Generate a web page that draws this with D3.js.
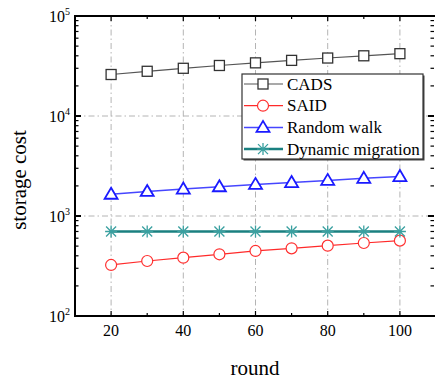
<!DOCTYPE html>
<html>
<head>
<meta charset="utf-8">
<script src="https://cdn.jsdelivr.net/npm/d3@7"></script>
<style>
  body { margin: 0; background: #fff; }
  text { font-family: "Liberation Serif", "Times New Roman", serif; fill: #000; }
</style>
</head>
<body>
<div id="chart"></div>
<script>
const rounds = [20, 30, 40, 50, 60, 70, 80, 90, 100];
const cads = [26000, 28000, 30000, 32000, 34000, 36000, 38000, 40000, 42000];
const said = [324, 355, 383, 414, 447, 475, 505, 537, 567];
const randomWalk = [1650, 1760, 1860, 1960, 2070, 2160, 2270, 2380, 2480];
const dynamicMigration = [700, 700, 700, 700, 700, 700, 700, 700, 700];
const xTicks = [20, 40, 60, 80, 100];
const yTicks = [100, 1000, 10000, 100000];

const W = 435, H = 379;
const margin = { top: 16, left: 75 };
const plotRight = 436, plotBottom = 316;

const svg = d3.select("#chart").append("svg")
  .attr("width", W)
  .attr("height", H);

const x = d3.scaleLinear().domain([10, 110]).range([margin.left, plotRight]);
const y = d3.scaleLog().domain([100, 100000]).range([plotBottom, margin.top]);

// grid lines (dash-dot)
const grid = svg.append("g").attr("class", "grid")
  .attr("stroke", "#b4b4b4").attr("stroke-width", 1).attr("stroke-dasharray", "6,3,1.5,3");
grid.selectAll(".gx").data(xTicks).enter().append("line")
  .attr("x1", d => x(d)).attr("x2", d => x(d))
  .attr("y1", margin.top).attr("y2", plotBottom);
grid.selectAll(".gy").data([1000, 10000]).enter().append("line")
  .attr("x1", margin.left).attr("x2", plotRight)
  .attr("y1", d => y(d)).attr("y2", d => y(d));

// axes with inward ticks
const minorY = [];
[100, 1000, 10000].forEach(b => { for (let k = 2; k <= 9; k++) minorY.push(b * k); });

function yAxisTicks(g, side) {
  const dir = side === "left" ? 1 : -1;
  const x0 = side === "left" ? margin.left : plotRight - 2;
  g.selectAll(".maj").data(yTicks).enter().append("line")
    .attr("x1", x0).attr("x2", x0 + dir * 6)
    .attr("y1", d => y(d)).attr("y2", d => y(d))
    .attr("stroke", "#000").attr("stroke-width", 2);
  g.selectAll(".min").data(minorY).enter().append("line")
    .attr("x1", x0).attr("x2", x0 + dir * 3.5)
    .attr("y1", d => y(d)).attr("y2", d => y(d))
    .attr("stroke", "#000").attr("stroke-width", 1.2);
}
yAxisTicks(svg.append("g"), "left");
yAxisTicks(svg.append("g"), "right");

const allX = d3.range(20, 101, 10);
function xAxisTicks(g, yPos, dir) {
  g.selectAll("line").data(allX).enter().append("line")
    .attr("x1", d => x(d)).attr("x2", d => x(d))
    .attr("y1", yPos).attr("y2", d => yPos + dir * (xTicks.includes(d) ? 5 : 3))
    .attr("stroke", "#000").attr("stroke-width", 1.2);
}
xAxisTicks(svg.append("g"), plotBottom, -1);
xAxisTicks(svg.append("g"), margin.top, 1);

// frame
svg.append("path")
  .attr("d", `M${margin.left},${margin.top}H${plotRight}V${plotBottom}H${margin.left}Z`)
  .attr("fill", "none").attr("stroke", "#000").attr("stroke-width", 2);

// tick labels
const xl = svg.append("g").attr("font-size", 16).attr("text-anchor", "middle");
xl.selectAll("text").data(xTicks).enter().append("text")
  .attr("x", d => x(d)).attr("y", 336).text(d => d);

const yl = svg.append("g").attr("font-size", 16).attr("text-anchor", "end");
yTicks.forEach(v => {
  const t = yl.append("text").attr("x", 70).attr("y", y(v) + 5.5);
  t.append("tspan").text("10");
  t.append("tspan").attr("font-size", 10).attr("dy", -7).text(Math.round(Math.log10(v)));
});

// axis titles
svg.append("text").attr("x", 255).attr("y", 375)
  .attr("text-anchor", "middle").attr("font-size", 21).text("round");
svg.append("text")
  .attr("transform", "translate(26,180) rotate(-90)")
  .attr("text-anchor", "middle").attr("font-size", 21).text("storage cost");

// series
const series = [
  { name: "CADS", values: cads, line: "#555", mark: "#333", lw: 1.2, marker: "square" },
  { name: "SAID", values: said, line: "#ff2a2a", mark: "#ff3030", lw: 1.2, marker: "circle" },
  { name: "Random walk", values: randomWalk, line: "#4646ff", mark: "#1a1aff", lw: 1.5, marker: "triangle" },
  { name: "Dynamic migration", values: dynamicMigration, line: "#1a8080", mark: "#3aa0a0", lw: 2.5, marker: "star" }
];

const line = d3.line().x(d => x(d[0])).y(d => y(d[1]));

function drawMarker(g, type, color) {
  if (type === "square") {
    g.append("rect").attr("x", -5).attr("y", -5).attr("width", 10).attr("height", 10)
      .attr("fill", "#fff").attr("stroke", color).attr("stroke-width", 1.3);
  } else if (type === "circle") {
    g.append("circle").attr("r", 5.5).attr("fill", "#fff").attr("stroke", color).attr("stroke-width", 1.2);
  } else if (type === "triangle") {
    g.append("path").attr("d", "M0,-6.5L6.5,4.5L-6.5,4.5Z")
      .attr("fill", "#fff").attr("stroke", color).attr("stroke-width", 1.8);
  } else {
    g.append("path").attr("d", "M0,-6V6M-6,0H6M-5,-5L5,5M-5,5L5,-5")
      .attr("fill", "none").attr("stroke", color).attr("stroke-width", 1.3);
  }
}

series.forEach(s => {
  const pts = rounds.map((r, i) => [r, s.values[i]]);
  const g = svg.append("g").attr("class", "series");
  g.append("path").attr("d", line(pts)).attr("fill", "none")
    .attr("stroke", s.line).attr("stroke-width", s.lw);
  pts.forEach(p => {
    drawMarker(g.append("g").attr("transform", `translate(${x(p[0])},${y(p[1])})`), s.marker, s.mark);
  });
});

// legend
const lg = svg.append("g").attr("transform", "translate(242,74)");
lg.append("rect").attr("x", 1.5).attr("y", 1.5).attr("width", 181).attr("height", 85).attr("fill", "#444");
lg.append("rect").attr("width", 181).attr("height", 85).attr("fill", "#fff")
  .attr("stroke", "#333").attr("stroke-width", 1.2);
series.forEach((s, i) => {
  const yy = 10 + i * 21.7;
  lg.append("line").attr("x1", 2).attr("x2", 41).attr("y1", yy).attr("y2", yy)
    .attr("stroke", s.line).attr("stroke-width", s.lw);
  drawMarker(lg.append("g").attr("transform", `translate(21,${yy})`), s.marker, s.mark);
  lg.append("text").attr("x", 45).attr("y", yy + 5.5).attr("font-size", 17).text(s.name);
});
</script>
</body>
</html>
